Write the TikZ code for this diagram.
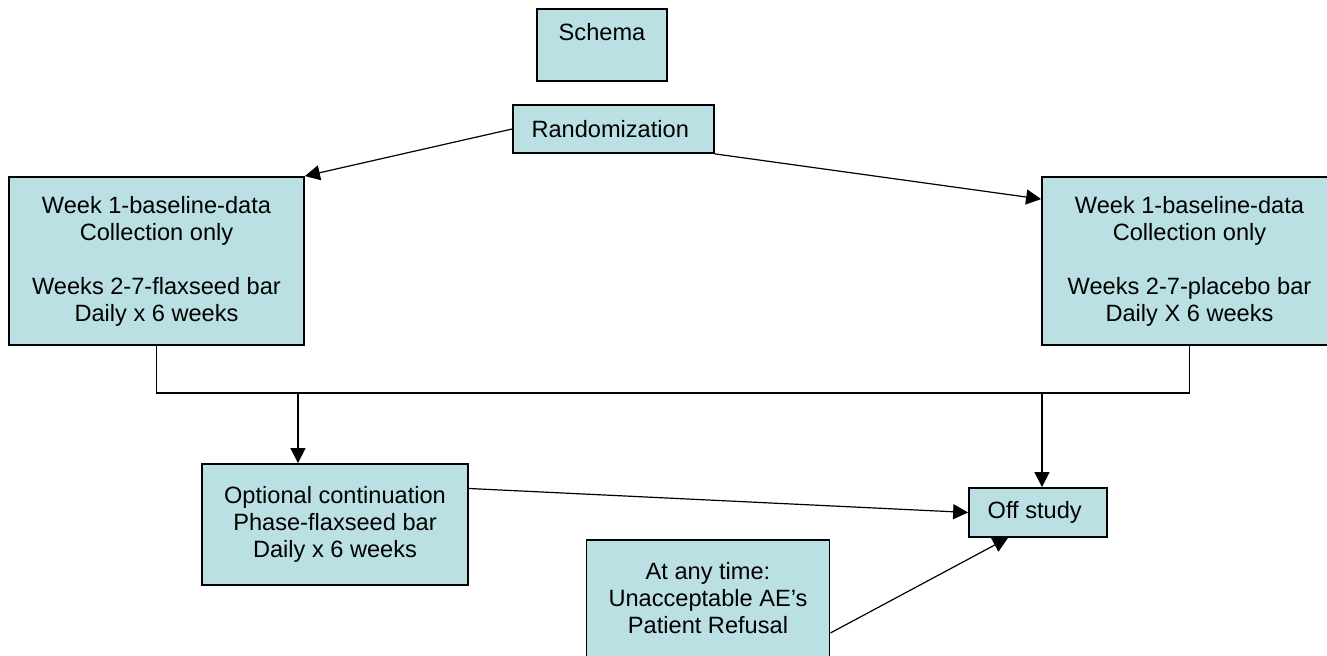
\documentclass[tikz,border=0pt]{standalone}
\usepackage{fontspec}
\setmainfont{Liberation Sans}
\usetikzlibrary{arrows.meta}
\definecolor{boxfill}{RGB}{187,224,227}

\begin{document}
\begin{tikzpicture}[x=0.5pt,y=-0.5pt,font=\fontsize{11.8}{13.5}\selectfont,every node/.style = {shape=rectangle, draw, line width=0.9pt, fill=boxfill, align=center}]
		\tikzset{
			stage/.style = { minimum width=#1 },
			link/.style = { draw, line width=0.6pt, -{Triangle[length=7.5pt,width=7.5pt]} },
		}
		\useasboundingbox (0,0) rectangle (1327,656);
		\node [stage=65pt, minimum height=36pt] (schema) at (602,45) { Schema \\ ~ };
		\node [stage=100.5pt, minimum height=24pt] (rand) at (613.5,129) { Randomization };
		\node [stage=147.5pt, minimum height=84pt] (armA) at (156.5,261)
			{ Week 1-baseline-data \\ Collection only \\ ~ \\ Weeks 2-7-flaxseed bar \\ Daily x 6 weeks };
		\node [stage=147.5pt, minimum height=84pt] (armB) at (1189.5,261)
			{ Week 1-baseline-data \\ Collection only \\ ~ \\ Weeks 2-7-placebo bar \\ Daily X 6 weeks };
		\node [stage=133pt, minimum height=60.5pt] (optional) at (335,524.5)
			{ Optional continuation \\ Phase-flaxseed bar \\ Daily x 6 weeks };
		\node [stage=69pt, minimum height=24.5pt] (off) at (1038,512.5) { Off study };
		\node [stage=121.5pt, minimum height=71pt] (anytime) at (708,611)
			{ At any time: \\ Unacceptable AE’s \\ Patient Refusal \\ ~ };
		% randomization to both arms
		\draw [link] (rand.west) -- (armA.north east);
		\draw [link] (rand.south east) -- ([yshift=-11.5pt]armB.north west);
		% joining line under the arms
		\coordinate (busL) at (154,393);
		\coordinate (tapA) at (298,393);
		\coordinate (tapB) at (1042,393);
		\draw [line width=0.6pt] (armA.south) -- (armA.south |- busL) -- (armB.south |- busL) -- (armB.south);
		\draw [link] (tapA) -- (tapA |- optional.north);
		\draw [link] (tapB) -- (tapB |- off.north);
		% into off study
		\draw [link] ([yshift=18pt]optional.east) -- (off.west);
		\draw [link] ([yshift=-11pt]anytime.east) -- ([xshift=-15pt]off.south);
\end{tikzpicture}
\end{document}
